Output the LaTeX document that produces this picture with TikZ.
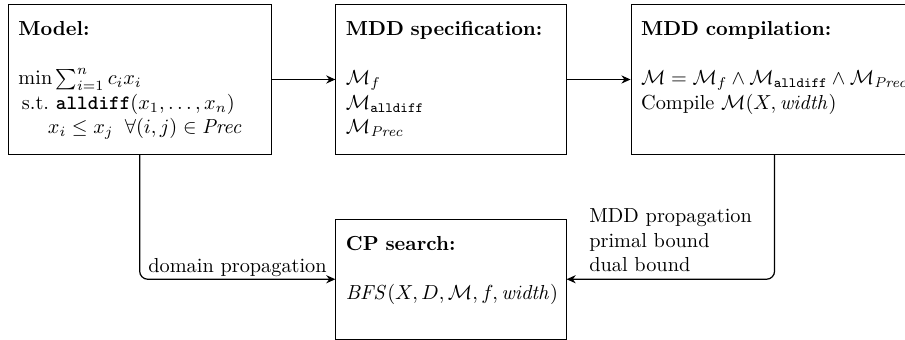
\documentclass[tikz,border=0pt]{standalone}
\usepackage{amsmath,amssymb}
\usetikzlibrary{arrows.meta,positioning}

\begin{document}
\begin{tikzpicture}[>={Stealth[length=4.5pt,width=4pt]},
  stage/.style={draw,align=left,inner sep=5pt,text height=10.5pt,text depth=53.4pt},
  link/.style={->,semithick,rounded corners=4pt}]
\useasboundingbox (0,0) rectangle (445.8pt,-167pt);
\node[stage,text width=119.4pt,anchor=north west] (model) at (3.9pt,-2pt)
  {\textbf{Model:}\\[12pt]
   $\min\sum_{i=1}^n c_ix_i$\\
   \hspace{1.7pt}s.t.\ \textbf{\texttt{alldiff}}$(x_1,\ldots,x_n)$\\
   \hspace{14.5pt}$x_i\leq x_j\;\;\forall(i,j)\in\mathit{Prec}$};
\node[stage,text width=103.5pt,right=31.5pt of model] (spec)
  {\textbf{MDD specification:}\\[12pt]
   $\mathcal{M}_f$\\
   $\mathcal{M}_{\mathtt{alldiff}}$\\
   $\mathcal{M}_{\mathit{Prec}}$};
\node[stage,text width=131.5pt,right=31.5pt of spec] (comp)
  {\textbf{MDD compilation:}\\[12pt]
   $\mathcal{M}=\mathcal{M}_f\wedge\mathcal{M}_{\mathtt{alldiff}}\wedge\mathcal{M}_{\mathit{Prec}}$\\
   Compile $\mathcal{M}(X,\mathit{width})$};
\node[stage,text width=103.5pt,text depth=38.6pt,below=31.5pt of spec] (cp)
  {\textbf{CP search:}\\[12pt]
   $\mathit{BFS}(X,D,\mathcal{M},f,\mathit{width})$};
% arrows
\draw[link] (model) -- (spec);
\draw[link] (spec) -- (comp);
\draw[link] (model.south) |- node[pos=0.75,above,inner sep=1pt] {domain propagation} (cp.west);
\draw[link] (comp.south) |- node[pos=0.75,above,align=left] {MDD propagation\\primal bound\\dual bound} (cp.east);
\end{tikzpicture}
\end{document}
